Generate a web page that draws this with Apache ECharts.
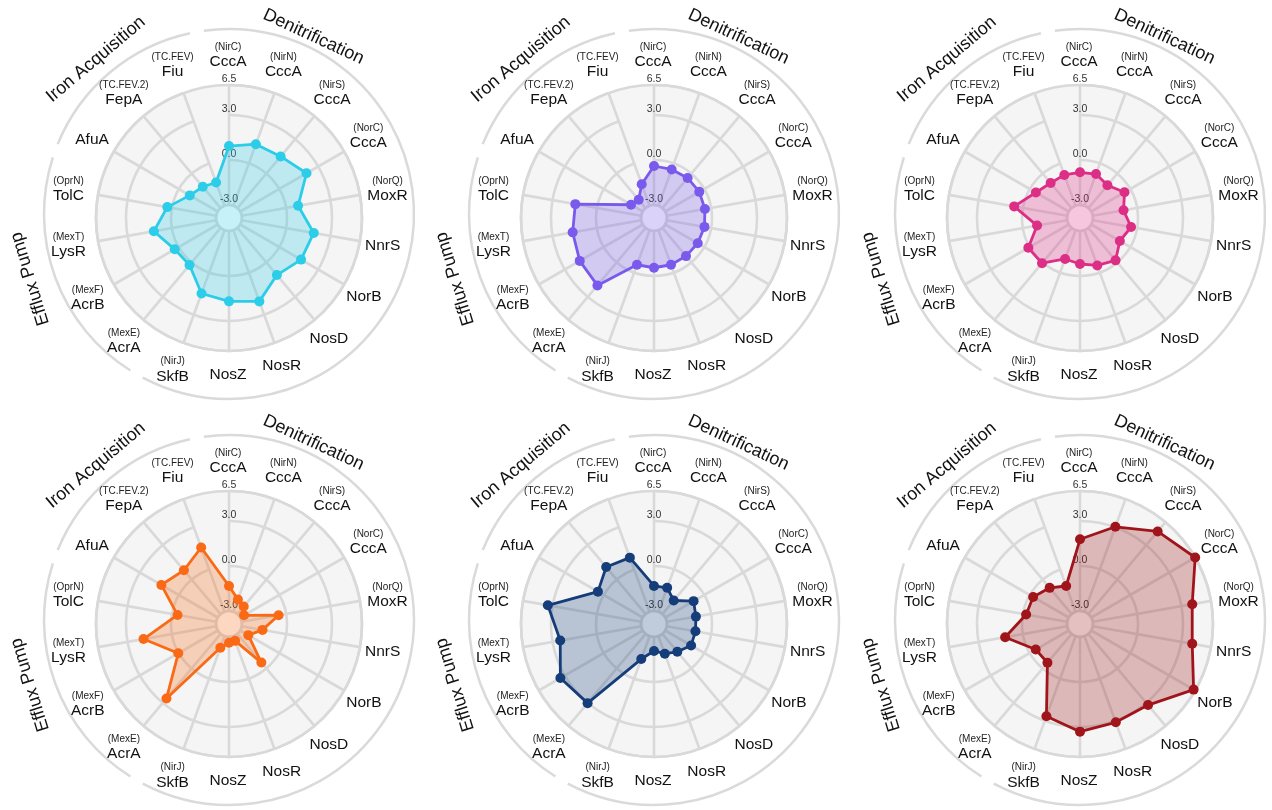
<!DOCTYPE html>
<html><head><meta charset="utf-8">
<script src="https://cdn.jsdelivr.net/npm/echarts@6/dist/echarts.min.js"></script>
<style>html,body{margin:0;padding:0;background:#fff}#c{width:1272px;height:810px}</style>
</head><body><div id="c"></div>
<script>
// ---------- data ----------
const geneNames = ['CccA','CccA','CccA','CccA','MoxR','NnrS','NorB','NosD','NosR','NosZ','SkfB','AcrA','AcrB','LysR','TolC','AfuA','FepA','Fiu'];
const geneSubs  = ['(NirC)','(NirN)','(NirS)','(NorC)','(NorQ)','','','','','','(NirJ)','(MexE)','(MexF)','(MexT)','(OprN)','','(TC.FEV.2)','(TC.FEV)'];
const groupNames = ['Denitrification','Efflux Pump','Iron Acquisition'];
const groupFirst = [0, 11, 15];
const groupLast  = [10, 14, 17];
const tickValues = [-3, 0, 3, 5];
const tickLabels = ['-3.0','0.0','3.0','6.5'];
const seriesColors = ['#2CCDE8','#7A5AEC','#DD2E86','#FA6A16','#153D79','#A0151B'];

const values1 = [0.93, 1.37, 1.49, 2.10, 0.81, 1.87, 1.68, 1.10, 2.05, 1.69, 1.49, 0.23, 0.31, 1.22, 0.31, -0.85, -1.15, -1.35];
const values2 = [-0.40, -0.42, -0.38, -0.38, -0.42, -0.45, -0.50, -0.55, -0.55, -0.55, -0.55, 2.00, 1.85, 1.64, 1.46, -2.10, -2.28, -1.47];
const values3 = [-0.82, -0.75, -1.02, -0.44, -0.92, -0.41, -0.80, -0.18, -0.50, -0.80, -0.96, 0.07, 0.11, -0.96, 0.59, -0.47, -0.82, -0.81];
const values4 = [-1.33, -2.13, -2.34, -2.71, -0.51, -1.60, -2.38, -0.51, -2.67, -2.62, -2.18, 2.62, 0.04, 1.92, -0.38, 1.34, 0.81, 1.56];
const values5 = [-1.33, -1.30, -1.82, -0.82, -1.03, -1.06, -1.01, -1.45, -1.76, -2.07, -1.38, 3.02, 3.34, 2.48, 3.32, 0.45, 1.09, 0.84];
const values6 = [1.78, 3.03, 4.19, 5.00, 3.73, 3.73, 4.88, 3.19, 3.11, 3.31, 2.68, -0.49, -0.46, 1.20, -0.22, -0.26, -0.72, -1.17];
const allValues = [values1, values2, values3, values4, values5, values6];

// ---------- layout ----------
const colX = [229, 654, 1080];
const rowY = [218, 624];
const innerR = 13, outerR = 133;
const axisMin = -3, axisMax = 5, axisStep = 3;
const pxPerUnit = (outerR - innerR) / (axisMax - axisMin);
const dataMin = axisMin - innerR / pxPerUnit;   // value at the very centre
const gridColor = '#d9d9d9';
const FONT = '"Liberation Sans", Arial, Helvetica, sans-serif';
const catKeys = geneNames.map((n, i) => n + ' ' + geneSubs[i] + '#' + i);
const nCat = geneNames.length;
const step = 360 / nCat;
// radar lays indicators out counter-clockwise; this order puts them clockwise from the top
const radarOrder = [0].concat(Array.from({ length: nCat - 1 }, (_, i) => nCat - 1 - i));

const polar = [], angleAxis = [], radiusAxis = [], radar = [], series = [], graphic = [];

function pt(cx, cy, r, deg) {
  const a = deg * Math.PI / 180;
  return [cx + r * Math.sin(a), cy - r * Math.cos(a)];
}

allValues.forEach((vals, p) => {
  const cx = colX[p % 3], cy = rowY[Math.floor(p / 3)];
  const bi = 2 * p, gi = 2 * p + 1;
  // background polar (fill only)
  polar.push({ center: [cx, cy], radius: [innerR, outerR] });
  angleAxis.push({
    polarIndex: bi, type: 'category', data: catKeys, boundaryGap: false,
    startAngle: 90, clockwise: true, z: 0,
    axisLine: { show: false }, axisTick: { show: false }, axisLabel: { show: false },
    splitLine: { show: false }
  });
  radiusAxis.push({
    polarIndex: bi, type: 'value', min: axisMin, max: axisMax, interval: axisStep, z: 0,
    axisLine: { show: false }, axisTick: { show: false }, axisLabel: { show: false },
    splitLine: { show: false },
    splitArea: { show: true, areaStyle: { color: ['#f5f5f5'] } }
  });
  // grid polar (rings, spokes, tick labels)
  polar.push({ center: [cx, cy], radius: [innerR, outerR] });
  angleAxis.push({
    polarIndex: gi, type: 'category', data: catKeys, boundaryGap: false,
    startAngle: 90, clockwise: true, z: 1,
    axisLine: { show: true, lineStyle: { color: gridColor, width: 2.6 } },
    axisTick: { show: false }, axisLabel: { show: false, interval: 0 },
    splitLine: { show: true, interval: 0, lineStyle: { color: gridColor, width: 2.6 } }
  });
  radiusAxis.push({
    polarIndex: gi, type: 'value', min: axisMin, max: axisMax, interval: axisStep, z: 1,
    axisLine: { show: false }, axisTick: { show: false },
    splitLine: { show: true, lineStyle: { color: gridColor, width: 2.6 } },
    splitArea: { show: false },
    axisLabel: {
      show: true, margin: 0, align: 'center', verticalAlign: 'bottom',
      showMinLabel: true, showMaxLabel: true,
      fontSize: 10.5, color: '#333', fontFamily: FONT,
      formatter: v => { const k = tickValues.findIndex(t => Math.abs(t - v) < 1e-9); return k >= 0 ? tickLabels[k] : ''; }
    }
  });
  // data layer: radar (closed polygon incl. centre)
  radar.push({
    center: [cx, cy], radius: outerR, startAngle: 90, shape: 'circle', z: 2,
    indicator: radarOrder.map(i => ({ name: catKeys[i], min: dataMin, max: axisMax })),
    axisName: { show: false }, axisLine: { show: false }, axisTick: { show: false },
    axisLabel: { show: false }, splitLine: { show: false }, splitArea: { show: false }
  });
  const col = seriesColors[p];
  series.push({
    type: 'radar', radarIndex: p, z: 3, silent: true,
    symbol: 'circle', symbolSize: 10,
    lineStyle: { color: col, width: 2.8 },
    itemStyle: { color: col },
    areaStyle: { color: col, opacity: 0.27 },
    data: [{ value: radarOrder.map(i => vals[i]) }]
  });

  // gene labels
  geneNames.forEach((name, k) => {
    const sub = geneSubs[k];
    const q = pt(cx - 1, cy, sub ? 162 : 157, k * step);
    graphic.push({
      type: 'text', x: q[0], y: q[1], silent: true, z: 10,
      style: {
        text: sub ? '{s|' + sub + '}\n{m|' + name + '}' : '{m|' + name + '}',
        align: 'center', verticalAlign: 'middle', fill: '#111', fontFamily: FONT,
        rich: {
          s: { fontSize: 10, lineHeight: 12, fill: '#222', fontFamily: FONT, align: 'center' },
          m: { fontSize: 15.5, lineHeight: 17, fill: '#111', fontFamily: FONT, align: 'center' }
        }
      }
    });
  });

  // group arcs and labels
  const gap = 2.2;
  const labelAngle = [25, 253, 320];
  const labelR = [200, 208, 207];
  groupNames.forEach((g, k) => {
    const a0 = (groupFirst[k] - 0.5) * step + gap;
    const a1 = (groupLast[k] + 0.5) * step - gap;
    graphic.push({
      type: 'arc', silent: true,
      shape: { cx: cx, cy: cy - 4, r: 185, startAngle: (a0 - 90) * Math.PI / 180, endAngle: (a1 - 90) * Math.PI / 180, clockwise: true },
      style: { stroke: '#dadada', lineWidth: 2.5, fill: null }
    });
    const q = pt(cx, cy, labelR[k], labelAngle[k]);
    graphic.push({
      type: 'text', x: q[0], y: q[1], rotation: -labelAngle[k] * Math.PI / 180, silent: true,
      style: { text: g, align: 'center', verticalAlign: 'middle', fontSize: 18, fill: '#111', fontFamily: FONT }
    });
  });
});

const chart = echarts.init(document.getElementById('c'), null, { renderer: 'canvas' });
chart.setOption({
  backgroundColor: '#ffffff',
  animation: false,
  polar, angleAxis, radiusAxis, radar, series, graphic
});
</script>
</body></html>
